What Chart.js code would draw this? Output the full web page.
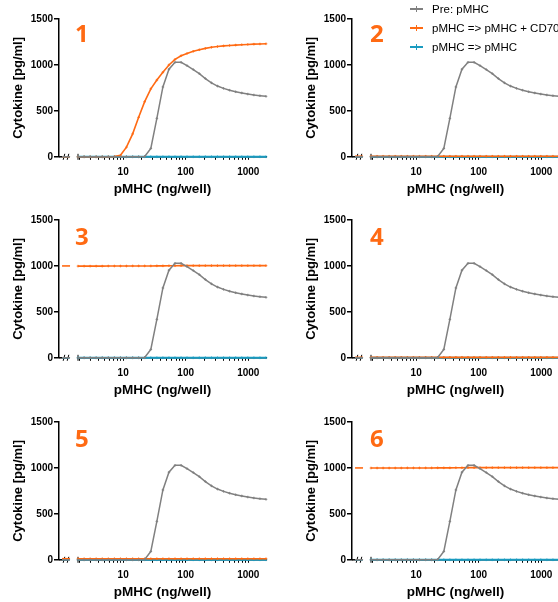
<!DOCTYPE html>
<html>
<head>
<meta charset="utf-8">
<script src="https://cdn.jsdelivr.net/npm/chart.js@4.4.0/dist/chart.umd.min.js"></script>
<style>
  html, body { margin: 0; padding: 0; background: #fff; }
  body { width: 558px; height: 602px; overflow: hidden; position: relative; }
  .panel { position: absolute; width: 280px; height: 201px; }
  .num { position: absolute; font: bold 24px 'Open Sans', sans-serif; color: #ff6a13; line-height: 24px; }
  .legend { position: absolute; left: 410px; top: 0; font: 11.5px 'Liberation Sans', Arial, sans-serif; color: #000; z-index: 2; }
  .item { position: absolute; left: 0; height: 14px; line-height: 14px; white-space: nowrap; }
  .swatch { position: absolute; left: 0; top: 6px; width: 13px; height: 2px; }
  .swatch i { position: absolute; left: 6px; top: -2px; width: 1px; height: 6px; background: inherit; }
  .item span { position: absolute; left: 22px; top: 0; }
</style>
</head>
<body>

<div class="legend" id="legend"></div>

<script>
// pMHC concentration (ng/well), log spaced
const conc = [1.9, 2.38, 2.97, 3.71, 4.64, 5.8, 7.25, 9.06, 11.3, 14.2, 17.7, 22.1, 27.7, 34.6, 43.2, 54.0,
              67.5, 84.4, 105, 132, 165, 206, 258, 322, 403, 503, 629, 787, 983, 1229, 1536, 1920];

const seriesNames = ['Pre: pMHC', 'pMHC => pMHC + CD70', 'pMHC => pMHC'];
const panelNames = ['1', '2', '3', '4', '5', '6'];

// Pre: pMHC (same curve in every panel)
const preValues = [0, 0, 0, 0, 0, 0, 0, 0, 0, 0, 0, 3, 91, 418, 760, 953,
                   1028, 1028, 992, 950, 905, 852, 805, 770, 745, 725, 708, 695, 683, 673, 665, 658];

// pMHC => pMHC + CD70, one list per panel
const cd70Panel1 = [0, 0, 0, 0, 0, 0, 2, 16, 105, 250, 430, 600, 740, 835, 920, 1000,
                    1060, 1100, 1125, 1148, 1165, 1180, 1192, 1200, 1207, 1212, 1216, 1220, 1223, 1226, 1228, 1230];
const cd70Panel2 = [6, 6, 6, 6, 6, 6, 6, 6, 6, 6, 6, 6, 6, 6, 6, 6,
                    6, 6, 6, 6, 6, 6, 6, 6, 6, 6, 6, 6, 6, 6, 6, 6];
const cd70Panel3 = [998, 998, 998, 998, 998, 999, 999, 999, 999, 1000, 1000, 1000, 1000, 1001, 1001, 1002,
                    1002, 1003, 1003, 1003, 1003, 1003, 1003, 1003, 1003, 1003, 1003, 1003, 1003, 1003, 1003, 1003];
const cd70Panel4 = [5, 5, 5, 5, 5, 5, 5, 5, 5, 5, 5, 5, 5, 5, 5, 5,
                    5, 5, 5, 5, 5, 5, 5, 5, 5, 5, 5, 5, 5, 5, 5, 5];
const cd70Panel5 = [12, 12, 12, 12, 12, 12, 12, 12, 12, 12, 12, 12, 12, 12, 12, 12,
                    12, 12, 12, 12, 12, 12, 12, 12, 12, 12, 12, 12, 12, 12, 12, 12];
const cd70Panel6 = [999, 999, 999, 999, 999, 999, 1000, 1000, 1000, 1000, 1000, 1001, 1001, 1001, 1002, 1002,
                    1003, 1003, 1003, 1003, 1003, 1003, 1003, 1003, 1003, 1003, 1003, 1003, 1003, 1003, 1003, 1003];

// pMHC => pMHC
const restimValues = [0, 0, 0, 0, 0, 0, 0, 0, 0, 0, 0, 0, 0, 0, 0, 0,
                      0, 0, 0, 0, 0, 0, 0, 0, 0, 0, 0, 0, 0, 0, 0, 0];

// values at 0 ng/well (left of the axis break)
const preAtZero = 0;
const cd70AtZero = [0, 6, 1000, 5, 12, 1000];
const restimAtZero = 0;

const yTicks = [0, 500, 1000, 1500];
const xTickValues = [2, 3, 4, 5, 6, 7, 8, 9, 10, 20, 30, 40, 50, 60, 70, 80, 90,
                     100, 200, 300, 400, 500, 600, 700, 800, 900, 1000];
const xTickLabels = [10, 100, 1000];

const cd70ByPanel = [cd70Panel1, cd70Panel2, cd70Panel3, cd70Panel4, cd70Panel5, cd70Panel6];

const GRAY = '#808080';
const ORANGE = '#ff6a13';
const CYAN = '#1a9bc0';
const seriesColors = [GRAY, ORANGE, CYAN];
const seriesWidths = [1.5, 1.6, 2];

Chart.defaults.font.family = "'Liberation Sans', Arial, sans-serif";
Chart.defaults.color = '#000';

// small x segment for 0 ng/well, with break marks
const axisBreak = {
  id: 'axisBreak',
  beforeDatasetsDraw(chart) {
    const { ctx, scales } = chart;
    const yb = scales.y.getPixelForValue(0);
    const x0 = scales.x0;
    ctx.save();
    ctx.strokeStyle = '#000';
    ctx.lineWidth = 1.5;
    ctx.beginPath();
    ctx.moveTo(x0.left, yb);
    ctx.lineTo(x0.getPixelForValue(0.3), yb);
    ctx.stroke();
    ctx.lineWidth = 1;
    [-0.29, 0.28].forEach(v => {
      const px = x0.getPixelForValue(v);
      ctx.beginPath();
      ctx.moveTo(px - 0.8, yb + 3);
      ctx.lineTo(px + 0.8, yb - 3);
      ctx.stroke();
    });
    const xs = scales.x.left;
    ctx.beginPath();
    ctx.moveTo(xs, yb - 3);
    ctx.lineTo(xs, yb + 3);
    ctx.stroke();
    ctx.restore();
  }
};

function buildDatasets(cd70, cd70Zero) {
  const values = [preValues, cd70, restimValues];
  const zeros = [preAtZero, cd70Zero, restimAtZero];
  const datasets = [];
  values.forEach((vals, i) => {
    datasets.push({
      label: seriesNames[i],
      data: conc.map((c, k) => ({ x: c, y: vals[k] })),
      xAxisID: 'x',
      borderColor: seriesColors[i],
      borderWidth: seriesWidths[i],
      pointStyle: 'cross',
      pointRadius: 1.3,
      pointBorderWidth: 0.9,
      pointBorderColor: seriesColors[i],
      pointBackgroundColor: seriesColors[i],
      tension: 0,
      clip: false
    });
  });
  zeros.forEach((z, i) => {
    datasets.push({
      label: seriesNames[i] + ' (0)',
      data: [{ x: 0, y: z }],
      xAxisID: 'x0',
      showLine: false,
      pointStyle: 'line',
      pointRadius: 4,
      pointBorderWidth: 1.6,
      pointBorderColor: seriesColors[i],
      clip: false
    });
  });
  return datasets;
}

const colLeft = [0, 293];
const rowTop = [0, 201, 403];
const numTop = [25, 228, 430];
const numLeft = [75, 370];

panelNames.forEach((name, p) => {
  const col = p % 2, row = Math.floor(p / 2);
  const div = document.createElement('div');
  div.className = 'panel';
  div.style.left = colLeft[col] + 'px';
  div.style.top = rowTop[row] + 'px';
  const canvas = document.createElement('canvas');
  canvas.width = 280;
  canvas.height = 201;
  div.appendChild(canvas);
  document.body.appendChild(div);

  const num = document.createElement('div');
  num.className = 'num';
  num.textContent = name;
  num.style.left = numLeft[col] + 'px';
  num.style.top = (numTop[row] - 4) + 'px';
  document.body.appendChild(num);

  new Chart(canvas.getContext('2d'), {
    type: 'line',
    data: { datasets: buildDatasets(cd70ByPanel[p], cd70AtZero[p]) },
    options: {
      responsive: false,
      animation: false,
      layout: { padding: { top: 19, right: 14, left: 0, bottom: 0 } },
      plugins: {
        legend: { display: false },
        tooltip: { enabled: false },
        title: {
          display: true,
          text: 'pMHC (ng/well)',
          position: 'bottom',
          fullSize: false,
          color: '#000',
          font: { size: 13.5, weight: 'bold' },
          padding: { top: 5, bottom: 4 }
        }
      },
      scales: {
        x0: {
          type: 'linear',
          position: 'bottom',
          stack: 'x',
          stackWeight: 19,
          min: -1,
          max: 1.7,
          ticks: { display: false },
          grid: { display: false },
          border: { display: false },
          afterFit: s => { s.height = 19; }
        },
        x: {
          type: 'logarithmic',
          position: 'bottom',
          stack: 'x',
          stackWeight: 188,
          min: 1.9,
          max: 1920,
          afterBuildTicks: s => { s.ticks = xTickValues.map(v => ({ value: v })); },
          afterFit: s => { s.height = 19; },
          ticks: {
            autoSkip: false,
            maxRotation: 0,
            padding: 6,
            color: '#000',
            font: { size: 10, weight: 'bold' },
            callback: v => xTickLabels.includes(v) ? String(v) : ''
          },
          grid: { display: true, drawOnChartArea: false, drawTicks: true, tickLength: 3, color: '#000', lineWidth: 1 },
          border: { display: true, color: '#000', width: 1.5 }
        },
        y: {
          type: 'linear',
          position: 'left',
          min: 0,
          max: 1500,
          afterBuildTicks: s => { s.ticks = yTicks.map(v => ({ value: v })); },
          afterFit: s => { s.width = 59; },
          ticks: {
            padding: 1,
            color: '#000',
            font: { size: 10, weight: 'bold' },
            callback: v => String(v)
          },
          grid: { display: true, drawOnChartArea: false, drawTicks: true, tickLength: 5, color: '#000', lineWidth: 1.5 },
          border: { display: true, color: '#000', width: 1.5 },
          title: {
            display: true,
            text: 'Cytokine [pg/ml]',
            color: '#000',
            font: { size: 13, weight: 'bold' },
            padding: { top: 11, bottom: 0 }
          }
        }
      }
    },
    plugins: [axisBreak]
  });
});

// legend sits over panel 2
const legend = document.getElementById('legend');
seriesNames.forEach((name, i) => {
  const item = document.createElement('div');
  item.className = 'item';
  item.style.top = (2 + i * 19) + 'px';
  const sw = document.createElement('div');
  sw.className = 'swatch';
  sw.style.background = seriesColors[i];
  sw.appendChild(document.createElement('i'));
  const t = document.createElement('span');
  t.textContent = name;
  item.appendChild(sw);
  item.appendChild(t);
  legend.appendChild(item);
});
</script>
</body>
</html>
